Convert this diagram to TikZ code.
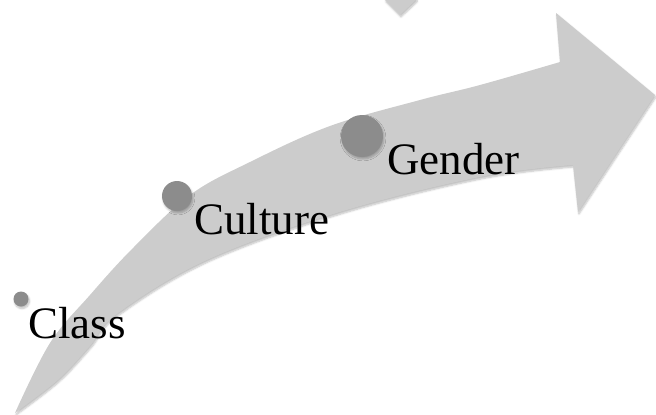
\documentclass[tikz,border=0pt]{standalone}
\usepackage{fontspec}
\setmainfont{Liberation Serif}
\usetikzlibrary{shadows,shadows.blur}

\definecolor{arrowgray}{HTML}{CCCCCC}
\definecolor{dotgray}{HTML}{8C8C8C}

\tikzset{
  soft/.style={blur shadow={shadow xshift=1pt, shadow yshift=-2pt, shadow blur steps=6, shadow opacity=25}},
  dot/.style={circle, fill=dotgray, inner sep=0pt, soft},
  lbl/.style={anchor=base west, inner sep=0pt, font=\fontsize{45}{50}\selectfont}
}

\begin{document}
\begin{tikzpicture}[x=1pt, y=-1pt]
    \useasboundingbox (0,0) rectangle (656,415);

    % Small arrow tip at the top
    \fill[arrowgray, soft] (385,-8) -- (416,-8) -- (416,0) -- (400,15) -- (385,0) -- cycle;

    % Curved arrow
    \fill[arrowgray, soft] (15,413)
        -- plot[smooth, tension=0.6] coordinates {(15,413) (50,343) (90,295) (133,248) (190,195) (250,162) (330,126) (420,100) (480,85) (560,62)}
        -- (556,13) -- (655,95) -- (578,212) -- (573,165)
        -- plot[smooth, tension=0.6] coordinates {(573,165) (480,177) (340,212) (207,260) (117,314) (90,346) (58,380) (15,413)}
        -- cycle;

    % Steps
    \node[dot, minimum size=15pt] (classdot) at (21,299) {};
    \node[dot, minimum size=30pt] (culturedot) at (177,196) {};
    \node[dot, minimum size=42pt] (genderdot) at (362,136) {};

    \node[lbl] (classlbl) at (28,338) {Class};
    \node[lbl] (culturelbl) at (194,234) {Culture};
    \node[lbl] (genderlbl) at (387,174) {Gender};
\end{tikzpicture}
\end{document}
